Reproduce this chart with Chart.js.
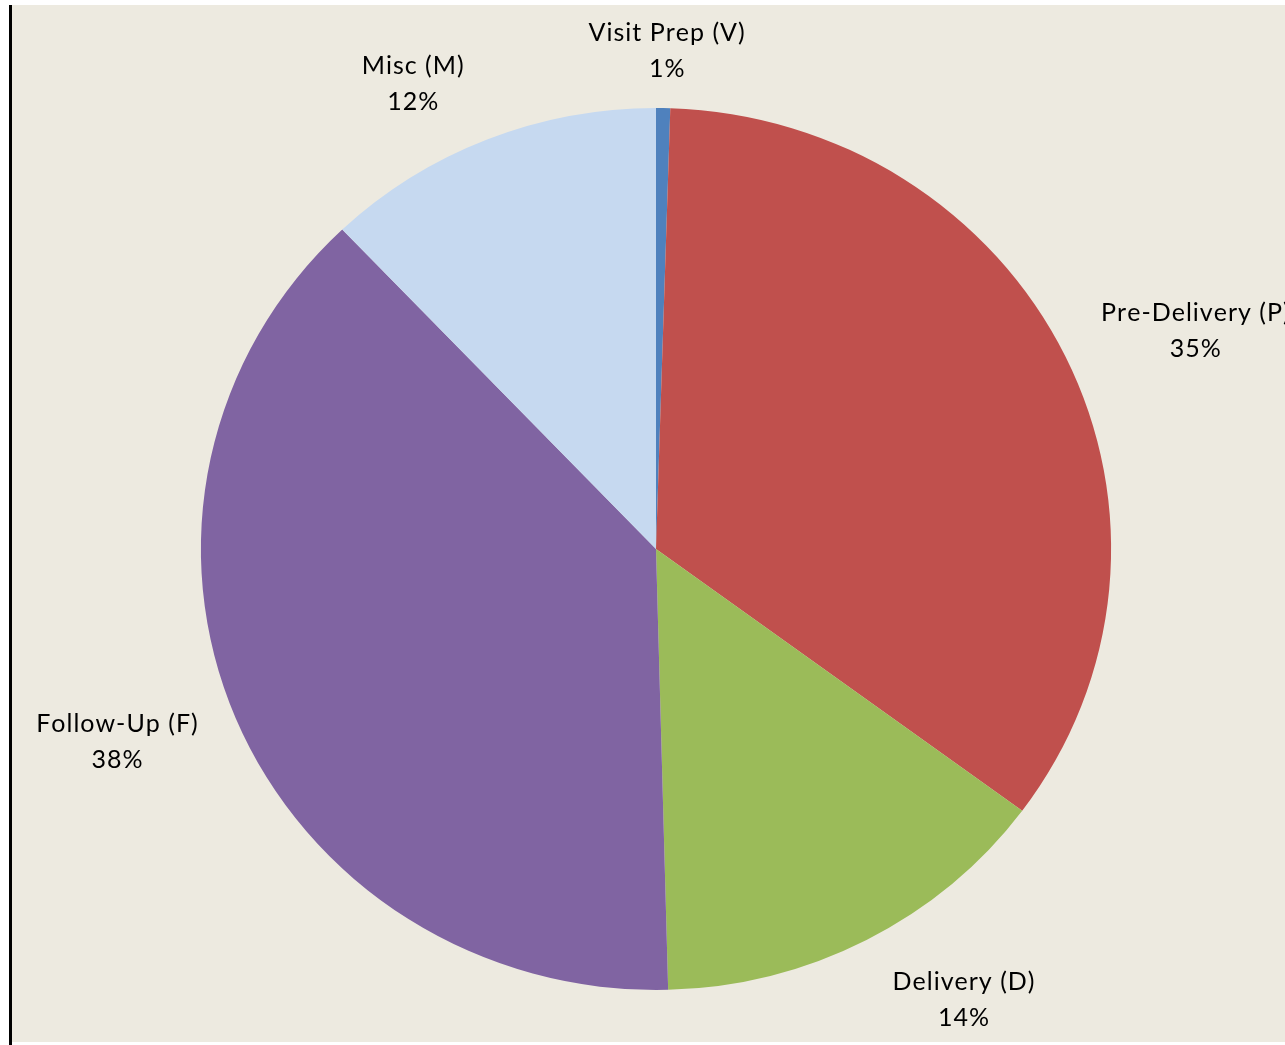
<!DOCTYPE html>
<html>
<head>
<meta charset="utf-8">
<script src="https://cdn.jsdelivr.net/npm/chart.js@4.4.1/dist/chart.umd.min.js"></script>
<style>
  html, body { margin: 0; padding: 0; background: #ffffff; }
  #frame { position: absolute; left: 12px; top: 5px; width: 1273px; height: 1037px; background: #edeae0; }
  #edge { position: absolute; left: 9px; top: 5px; width: 3px; height: 1040px; background: #000; }
  #wrap { position: absolute; left: 0; top: 0; width: 1285px; height: 1045px; }
</style>
</head>
<body>
<div id="frame"></div>
<div id="edge"></div>
<div id="wrap"><canvas id="pie"></canvas></div>
<script>
// data, clockwise from 12 o'clock
const categories = ['Visit Prep (V)', 'Pre-Delivery (P)', 'Delivery (D)', 'Follow-Up (F)', 'Misc (M)']
const shares = [0.5, 34.6, 14.45, 38.3, 12.1]
const sliceColors = ['#4f81bd', '#c0504d', '#9bbb59', '#8064a2', '#c6d9f0']

// label placement tweaks (px), same order as categories
const labelNudge = [[1, 2], [-14, 0], [23, 8], [29, 1], [-15, -1]]

// excel pie is a bit wider than tall
const stretchX = 1.032

// centred text with a bit of tracking, drawn char by char
function spacedText(ctx, text, cx, y, gap) {
	const chars = text.split('')
	const widths = chars.map(c => ctx.measureText(c).width)
	const total = widths.reduce((a, b) => a + b, 0) + gap * (chars.length - 1)
	let x = cx - total / 2
	chars.forEach((c, i) => {
		ctx.fillText(c, x, y)
		x += widths[i] + gap
	})
}

const stretch = {
	id: 'stretch',
	beforeDatasetsDraw(chart) {
		const arc = chart.getDatasetMeta(0).data[0]
		const ctx = chart.ctx
		ctx.save()
		ctx.translate(arc.x, arc.y)
		ctx.scale(stretchX, 1)
		ctx.translate(-arc.x, -arc.y)
	},
	afterDatasetsDraw(chart) {
		chart.ctx.restore()
	}
}

const sliceLabels = {
	id: 'sliceLabels',
	afterDraw(chart) {
		const ctx = chart.ctx
		const total = shares.reduce((a, b) => a + b, 0)
		ctx.save()
		ctx.font = '25px Lato'
		ctx.fillStyle = '#000'
		ctx.textAlign = 'left'
		ctx.textBaseline = 'middle'
		chart.getDatasetMeta(0).data.forEach((arc, i) => {
			const mid = (arc.startAngle + arc.endAngle) / 2
			const rx = arc.outerRadius * stretchX + 160
			const ry = arc.outerRadius + 59
			const x = arc.x + Math.cos(mid) * rx + labelNudge[i][0]
			const y = arc.y + Math.sin(mid) * ry + labelNudge[i][1]
			const pct = Math.round(shares[i] / total * 100) + '%'
			spacedText(ctx, categories[i], x, y - 18, 1)
			spacedText(ctx, pct, x, y + 18, 1)
		})
		ctx.restore()
	}
}

new Chart(document.getElementById('pie'), {
	type: 'pie',
	data: {
		labels: categories,
		datasets: [{
			data: shares,
			backgroundColor: sliceColors,
			borderWidth: 0
		}]
	},
	options: {
		responsive: true,
		maintainAspectRatio: false,
		animation: false,
		layout: { padding: { top: 108, bottom: 55, left: 200, right: 173 } },
		plugins: {
			legend: { display: false },
			tooltip: { enabled: false }
		}
	},
	plugins: [stretch, sliceLabels]
})
</script>
</body>
</html>
